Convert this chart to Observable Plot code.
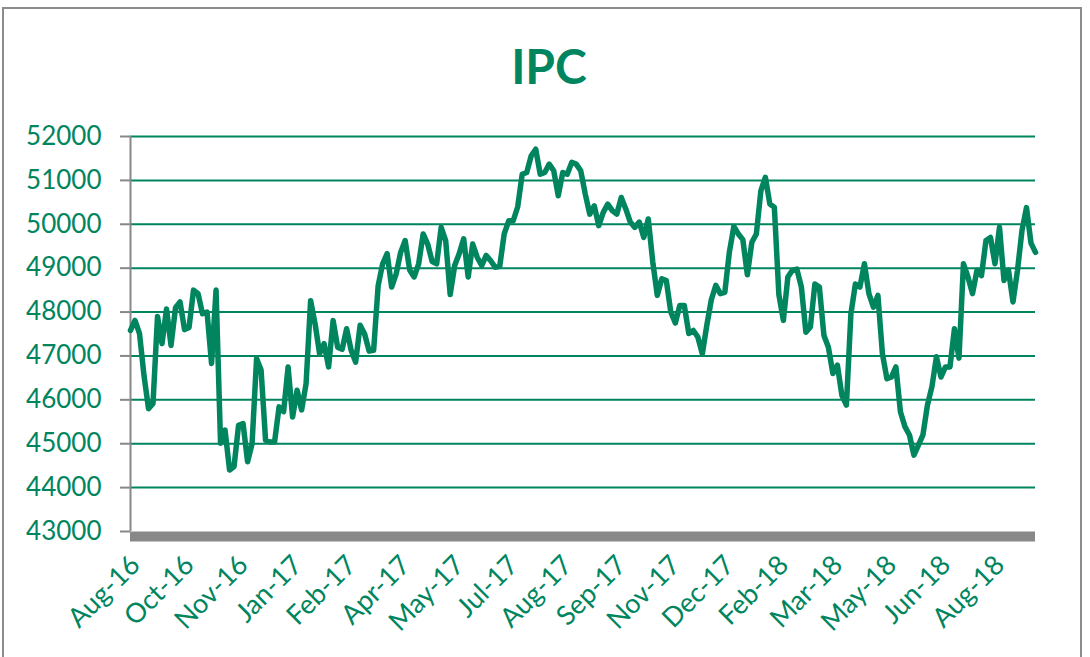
<!DOCTYPE html>
<html>
<head>
<meta charset="utf-8">
<script src="https://cdn.jsdelivr.net/npm/d3@7"></script>
<script src="https://cdn.jsdelivr.net/npm/@observablehq/plot@0.6"></script>
<style>
  html, body { margin: 0; padding: 0; background: #fff; }
  #wrap { position: relative; width: 1090px; height: 657px; overflow: hidden; font-family: Lato, "Open Sans", sans-serif; }
  #frame { position: absolute; left: 2px; top: 7px; width: 1080px; height: 700px; border: 2px solid #8c8c8c; box-sizing: border-box; }
  #title { position: absolute; left: 0; top: 38px; width: 1098px; text-align: center; font-size: 48px; font-weight: bold; color: #00855f; line-height: 56px; }
  #chart { position: absolute; left: 0; top: 100px; }
</style>
</head>
<body>
<div id="wrap">
  <div id="frame"></div>
  <div id="title">IPC</div>
  <div id="chart"></div>
</div>
<script>
// Axis tick labels (every 12th trading-day sample)
const xLabels = ["Aug-16","Oct-16","Nov-16","Jan-17","Feb-17","Apr-17","May-17","Jul-17","Aug-17",
                 "Sep-17","Nov-17","Dec-17","Feb-18","Mar-18","May-18","Jun-18","Aug-18"];
const labelStep = 12;
const yTicks = [43000,44000,45000,46000,47000,48000,49000,50000,51000,52000];

// IPC index values (Aug-2016 .. Sep-2018)
const ipc = [
47580,47810,47510,46550,45800,45920,47900,47280,48070,47240,
48100,48230,47600,47650,48500,48420,47960,48000,46830,48500,
45010,45310,44400,44480,45420,45460,44590,45000,46940,46680,
45080,45040,45040,45840,45730,46750,45610,46220,45770,46370,
48260,47730,47050,47280,46750,47810,47200,47150,47620,47130,
46860,47700,47500,47110,47130,48600,49100,49330,48570,48870,
49360,49630,48960,48800,49100,49780,49550,49150,49100,49930,
49630,48400,49060,49330,49670,48800,49550,49250,49060,49290,
49170,49020,49040,49780,50080,50080,50400,51140,51180,51560,
51710,51140,51180,51370,51220,50650,51180,51140,51410,51370,
51220,50690,50230,50420,49970,50270,50460,50310,50230,50610,
50350,50050,49930,50050,49700,50120,49140,48380,48760,48720,
48000,47750,48150,48150,47510,47580,47430,47050,47700,48280,
48610,48420,48450,49360,49950,49780,49650,48850,49590,49780,
50760,51070,50460,50390,48400,47810,48800,48950,48980,48570,
47540,47660,48640,48570,47470,47200,46600,46790,46100,45880,
47960,48640,48570,49100,48420,48110,48380,47050,46480,46520,
46750,45730,45390,45200,44740,44970,45200,45880,46300,46980,
46520,46750,46750,47620,46950,49100,48800,48420,48950,48830,
49630,49700,49100,49930,48720,48950,48230,48950,49860,50380,
49570,49360
];

const green = "#00855f";
const gray = "#888888";
const data = ipc.map((v, i) => ({i, v}));
const last = ipc.length - 1;
const labelData = xLabels.map((t, k) => ({i: k * labelStep, t}));

const chart = Plot.plot({
  width: 1090,
  height: 557,
  marginLeft: 130,
  marginRight: 55,
  marginTop: 36,
  marginBottom: 126,
  style: {background: "transparent", fontFamily: "Lato, 'Open Sans', sans-serif"},
  x: {type: "linear", domain: [0, last], axis: null},
  y: {domain: [43000, 52000], axis: null},
  marks: [
    Plot.ruleY(yTicks.slice(1), {x1: 0, x2: last, stroke: green, strokeWidth: 2}),
    Plot.axisY({ticks: yTicks, tickSize: 10, tickPadding: 19, stroke: gray, fill: green, strokeWidth: 2,
                fontSize: 26, tickFormat: d => String(d), label: null}),
    Plot.ruleX([0], {y1: 43000, y2: 52000, stroke: gray, strokeWidth: 2}),
    Plot.ruleY([43000], {x1: 0, x2: last, stroke: gray, strokeWidth: 10, dy: 5}),
    Plot.line(data, {x: "i", y: "v", stroke: green, strokeWidth: 5.5, strokeLinejoin: "round", strokeLinecap: "round"}),
    Plot.text(labelData, {x: "i", y: () => 43000, text: "t", rotate: -45, textAnchor: "end", lineAnchor: "middle",
                          dy: 29, dx: 5, fill: green, fontSize: 27})
  ]
});
document.getElementById("chart").appendChild(chart);
</script>
</body>
</html>
